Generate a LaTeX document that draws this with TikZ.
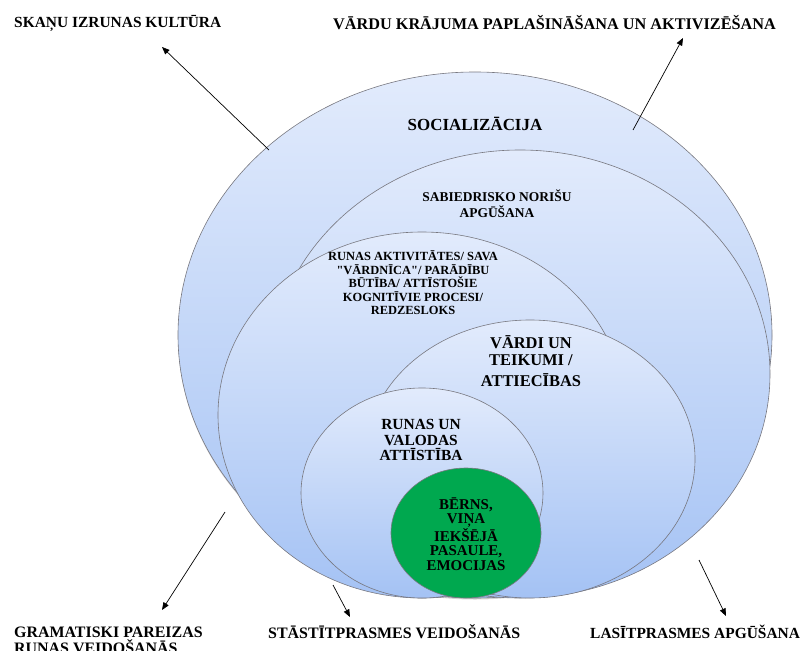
\documentclass[tikz,border=0pt]{standalone}
\usepackage{fontspec}
\setmainfont{Liberation Serif}[Ligatures=TeXOff]
\usetikzlibrary{shapes.geometric,arrows.meta,shadows}
\definecolor{bubtop}{RGB}{226,235,252}
\definecolor{bubbot}{RGB}{164,194,244}
\definecolor{kidgreen}{RGB}{0,168,79}
\definecolor{rimgray}{RGB}{120,120,128}
\begin{document}
\begin{tikzpicture}[x=1bp,y=-1bp,
  bub/.style={ellipse,draw=rimgray,line width=0.6bp,inner sep=0,top color=bubtop,bottom color=bubbot},
  lab/.style={inner sep=0,align=center,text=black},
  outerlab/.style={inner sep=0,anchor=west,font=\bfseries\fontsize{15.5}{16}\selectfont},
  arr/.style={-{Triangle[length=7.5bp,width=6bp]},line width=0.7bp,black}]
\useasboundingbox (0,0) rectangle (807,651);

% ellipses
\node[bub,minimum width=594bp,minimum height=526bp,drop shadow={shadow xshift=0bp,shadow yshift=-1.5bp,opacity=0.35}] (e1) at (475,335) {};
\node[bub,minimum width=500bp,minimum height=448bp] (e2) at (520,374) {};
\node[bub,minimum width=408bp,minimum height=366bp] (e3) at (422,415) {};
\node[bub,minimum width=330bp,minimum height=278bp] (e4) at (530,459) {};
\node[bub,minimum width=242bp,minimum height=210bp] (e5) at (422,493) {};
\node[ellipse,draw=rimgray,line width=0.6bp,fill=kidgreen,inner sep=0,minimum width=150bp,minimum height=130bp] (e6) at (466,533) {};

% inner labels
\node[lab,font=\bfseries\fontsize{17}{18}\selectfont] (l1) at (475,124) {SOCIALIZĀCIJA};
\node[lab,font=\bfseries\fontsize{13.5}{16}\selectfont] (l2) at (497,204) {SABIEDRISKO NORIŠU\\APGŪŠANA};
\node[lab,font=\bfseries\fontsize{12.5}{13.5}\selectfont] (l3) at (413,283) {RUNAS AKTIVITĀTES/ SAVA\\"VĀRDNĪCA"/ PARĀDĪBU\\BŪTĪBA/ ATTĪSTOŠIE\\KOGNITĪVIE PROCESI/\\REDZESLOKS};
\node[lab,font=\bfseries\fontsize{16.5}{17}\selectfont] (l4) at (531,361) {VĀRDI UN\\TEIKUMI /\\[4bp]ATTIECĪBAS};
\node[lab,font=\bfseries\fontsize{15.5}{15.5}\selectfont] (l5) at (421,440) {RUNAS UN\\VALODAS\\ATTĪSTĪBA};
\node[lab,font=\bfseries\fontsize{15}{14.3}\selectfont] (l6) at (466,534) {BĒRNS,\\VIŅA\\IEKŠĒJĀ\\PASAULE,\\EMOCIJAS};

% outer labels
\node[outerlab] (t1) at (14,23) {SKAŅU IZRUNAS KULTŪRA};
\node[outerlab,font=\bfseries\fontsize{16.3}{17}\selectfont] (t2) at (333,23) {VĀRDU KRĀJUMA PAPLAŠINĀŠANA UN AKTIVIZĒŠANA};
\node[outerlab,align=left,font=\bfseries\fontsize{16}{16}\selectfont] (t3) at (14,640) {GRAMATISKI PAREIZAS\\RUNAS VEIDOŠANĀS};
\node[outerlab,font=\bfseries\fontsize{16}{16}\selectfont] (t4) at (268,632) {STĀSTĪTPRASMES VEIDOŠANĀS};
\node[outerlab] (t5) at (590,632) {LASĪTPRASMES APGŪŠANA};

% arrows
\coordinate (a1s) at (269,150); \coordinate (a1e) at (162,47);
\coordinate (a2s) at (633,130); \coordinate (a2e) at (683,38);
\coordinate (a3s) at (225,512); \coordinate (a3e) at (162,610);
\coordinate (a4s) at (333,585); \coordinate (a4e) at (350,617);
\coordinate (a5s) at (699,560); \coordinate (a5e) at (726,616);
\draw[arr] (a1s) -- (a1e);
\draw[arr] (a2s) -- (a2e);
\draw[arr] (a3s) -- (a3e);
\draw[arr] (a4s) -- (a4e);
\draw[arr] (a5s) -- (a5e);
\end{tikzpicture}
\end{document}
